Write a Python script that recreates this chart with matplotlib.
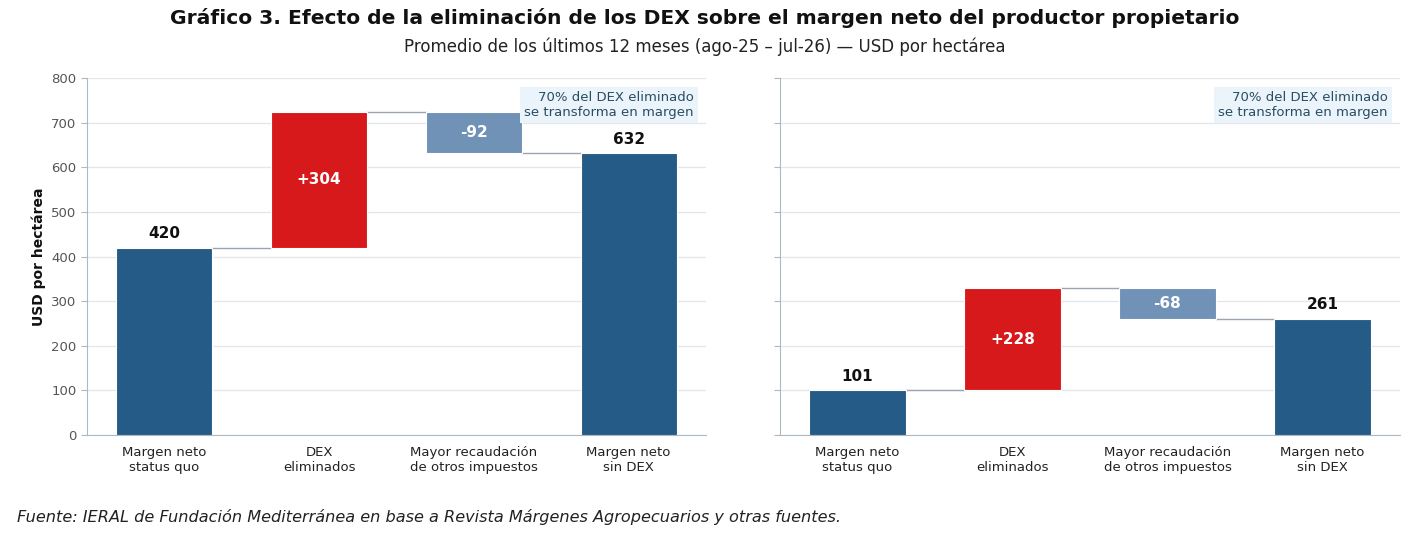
import matplotlib
matplotlib.use("Agg")
import matplotlib.pyplot as plt

# Datos del gráfico
categorias = ["Margen neto\nstatus quo", "DEX\neliminados",
              "Mayor recaudación\nde otros impuestos", "Margen neto\nsin DEX"]
panel_izq = [420, 304, -92, 632]
panel_der = [101, 228, -68, 261]
nota = "70% del DEX eliminado\nse transforma en margen"

AZUL = "#245b87"
ROJO = "#d7191c"
CELESTE = "#7092b7"
GRIS = "#aeb8c2"


def waterfall(ax, vals):
    base, d1, d2, total = vals
    bottoms = [0, base, base + d1 + d2, 0]
    heights = [base, d1, -d2, total]
    colors = [AZUL, ROJO, CELESTE, AZUL]
    x = range(len(vals))
    ax.bar(x, heights, bottom=bottoms, width=0.62, color=colors,
           edgecolor="white", linewidth=0.8, zorder=3)
    # conectores
    levels = [base, base + d1, base + d1 + d2]
    for i, lv in enumerate(levels):
        ax.plot([i + 0.31, i + 1 - 0.31], [lv, lv], color="#9aa4ae", lw=1.0, zorder=2)
    # etiquetas
    ax.text(0, base + 14, f"{base}", ha="center", va="bottom",
            fontsize=11, fontweight="bold", color="#111111")
    ax.text(3, total + 14, f"{total}", ha="center", va="bottom",
            fontsize=11, fontweight="bold", color="#111111")
    ax.text(1, base + d1 / 2, f"+{d1}", ha="center", va="center",
            fontsize=11, fontweight="bold", color="white", zorder=4)
    ax.text(2, base + d1 + d2 / 2, f"{d2}", ha="center", va="center",
            fontsize=11, fontweight="bold", color="white", zorder=4)
    ax.text(0.98, 0.963, nota, transform=ax.transAxes, ha="right", va="top",
            fontsize=9.5, color="#2a4d63", zorder=5, linespacing=1.2,
            bbox=dict(boxstyle="square,pad=0.3", fc="#eaf4fa", ec="none"))

    ax.set_xlim(-0.5, 3.5)
    ax.set_ylim(0, 800)
    ax.set_yticks(range(0, 801, 100))
    ax.set_xticks(list(x))
    ax.set_xticklabels(categorias, fontsize=9.5, color="#222222")
    ax.grid(axis="y", color="#e3e6ea", lw=0.9, zorder=0)
    for s in ["top", "right"]:
        ax.spines[s].set_visible(False)
    for s in ["left", "bottom"]:
        ax.spines[s].set_color(GRIS)
    ax.tick_params(axis="y", colors=GRIS, labelcolor="#555555", labelsize=9.5, length=4)
    ax.tick_params(axis="x", length=0, pad=8)


fig = plt.figure(figsize=(14.1, 5.43), dpi=100)
ax1 = fig.add_axes([87 / 1410, 1 - 435 / 543, 619 / 1410, 357 / 543])
ax2 = fig.add_axes([780 / 1410, 1 - 435 / 543, 620 / 1410, 357 / 543], sharey=ax1)

waterfall(ax1, panel_izq)
waterfall(ax2, panel_der)
ax2.tick_params(axis="y", labelleft=False)
ax1.set_ylabel("USD por hectárea", fontsize=10, fontweight="bold", color="#111111")

fig.text(0.5, 1 - 18 / 543, "Gráfico 3. Efecto de la eliminación de los DEX sobre el margen neto del productor propietario",
         ha="center", va="center", fontsize=14.6, fontweight="bold", family="DejaVu Sans", color="#111111")
fig.text(0.5, 1 - 47 / 543, "Promedio de los últimos 12 meses (ago-25 – jul-26) — USD por hectárea",
         ha="center", va="center", fontsize=12, family="DejaVu Sans", color="#222222")
fig.text(17 / 1410, 1 - 517 / 543,
         "Fuente: IERAL de Fundación Mediterránea en base a Revista Márgenes Agropecuarios y otras fuentes.",
         ha="left", va="center", fontsize=11.6, style="italic", family="DejaVu Sans", color="#222222")

fig.savefig("out.png", dpi=100)
